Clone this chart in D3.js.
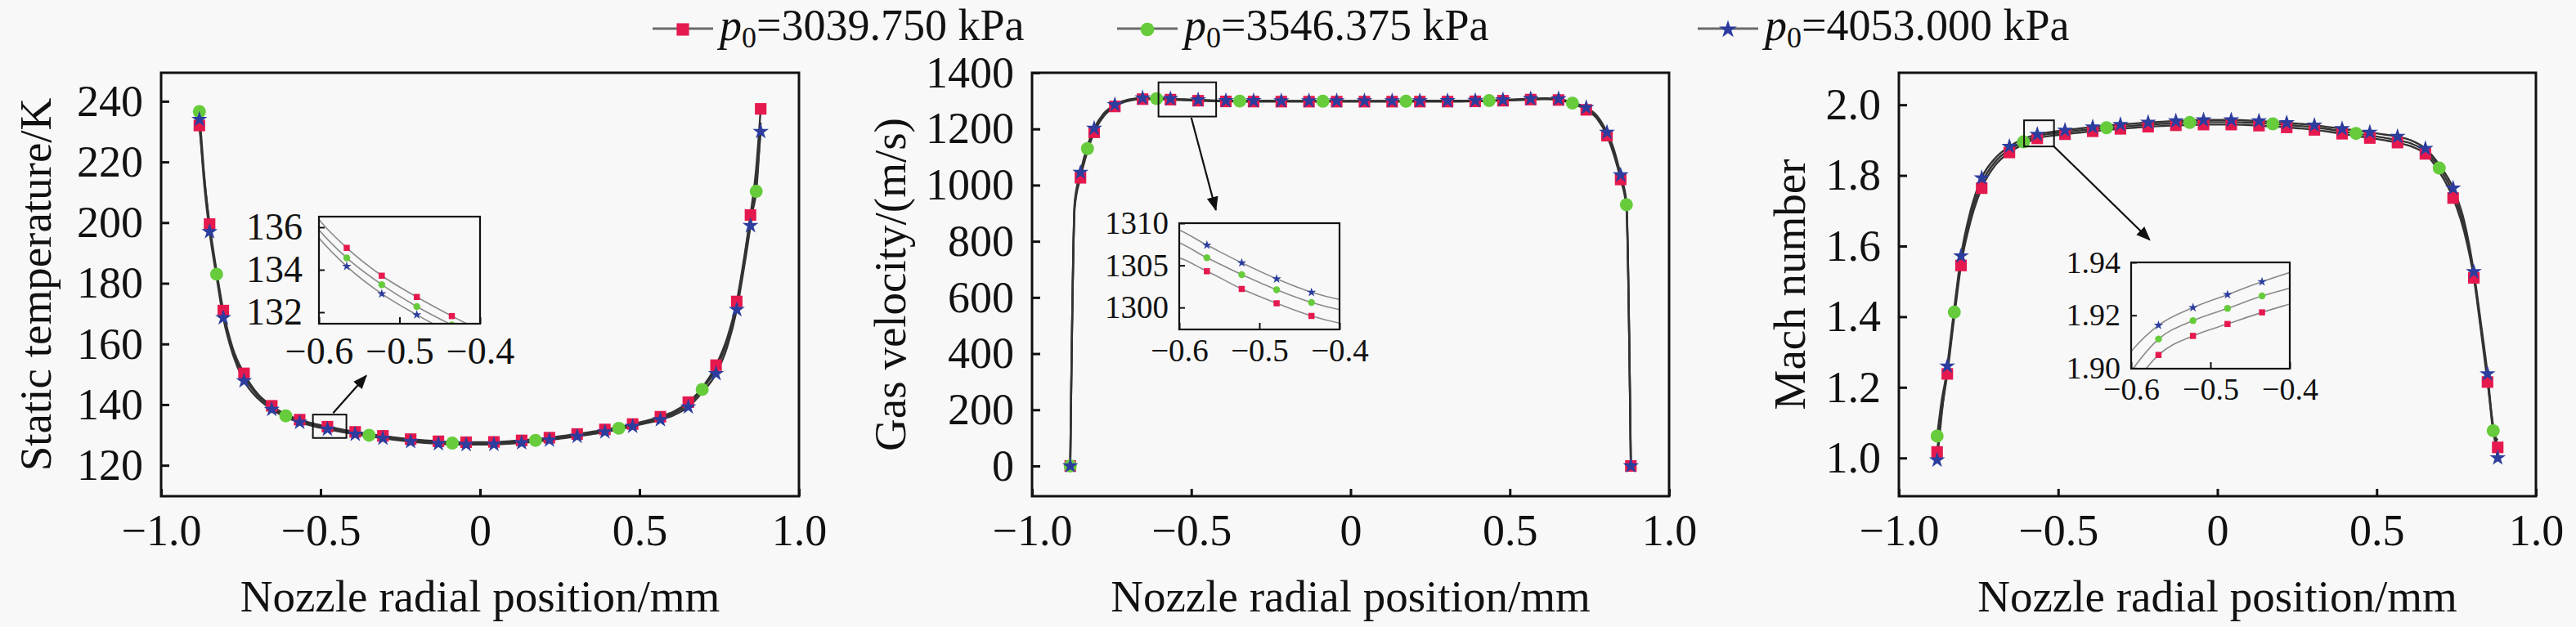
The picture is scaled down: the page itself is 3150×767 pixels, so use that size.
<!DOCTYPE html>
<html>
<head>
<meta charset="utf-8">
<script src="https://cdn.jsdelivr.net/npm/d3@7"></script>
<style>
    body { margin: 0; background: #f8f8f8; }
    svg text { font-family: "Liberation Serif", "Times New Roman", serif; fill: #111; }
</style>
</head>
<body>
<svg id="chart" width="3150" height="767"></svg>
<script>
// Radial sample positions (mm), same grid for every series
const radialPos = [-0.880, -0.866, -0.848, -0.826, -0.805, -0.775, -0.740, -0.6965, -0.653, -0.609,
    -0.5655, -0.522, -0.4785, -0.435, -0.3915, -0.348, -0.3045, -0.261, -0.2175, -0.174, -0.1305, -0.087, -0.0435,
    0,
    0.0435, 0.087, 0.1305, 0.174, 0.2175, 0.261, 0.3045, 0.348, 0.3915, 0.435, 0.4785, 0.522, 0.5655,
    0.609, 0.653, 0.6965, 0.740, 0.775, 0.805, 0.826, 0.848, 0.866, 0.880];

// Legend names (stagnation pressure, kPa)
const pressures = ["3039.750", "3546.375", "4053.000"];

// Static temperature (K)
const tempRed = [232.0, 216.0, 199.5, 184.0, 171.0, 158.5, 150.3, 143.5, 139.6, 136.8, 135.03, 133.72, 132.72, 131.82,
    131.0, 130.3, 129.7, 129.1, 128.6, 128.2, 127.9, 127.7, 127.6, 127.6, 127.7, 127.9, 128.2, 128.6, 129.1, 129.7,
    130.3, 131.0, 131.8, 132.6, 133.6, 134.7, 136.0, 137.8, 140.8, 145.5, 153.0, 162.0, 174.0, 187.0, 202.5, 218.0, 237.5];
const tempGreen = [236.6, 217.0, 198.5, 183.0, 170.0, 157.5, 149.2, 142.8, 139.0, 136.3, 134.56, 133.30, 132.27, 131.40,
    130.6, 129.9, 129.3, 128.7, 128.2, 127.8, 127.5, 127.3, 127.2, 127.2, 127.3, 127.5, 127.8, 128.2, 128.7, 129.3,
    129.9, 130.6, 131.4, 132.2, 133.2, 134.3, 135.5, 137.2, 140.0, 145.0, 151.8, 160.8, 172.8, 186.0, 201.5, 210.3, 233.0];
const tempBlue = [234.0, 214.0, 197.0, 182.0, 168.6, 156.5, 147.8, 142.0, 138.4, 135.9, 134.16, 132.87, 131.88, 131.00,
    130.2, 129.5, 128.9, 128.3, 127.8, 127.4, 127.1, 126.9, 126.8, 126.8, 126.9, 127.1, 127.4, 127.8, 128.3, 128.9,
    129.5, 130.2, 131.0, 131.8, 132.8, 133.9, 135.0, 136.6, 139.2, 144.0, 150.2, 159.0, 171.3, 184.0, 199.0, 213.0, 230.0];

// Gas velocity (m/s)
const velRed = [0, 920, 1026, 1120, 1188, 1245, 1280, 1300, 1306, 1306, 1304.3, 1302.2, 1300.5, 1299.0,
    1298.0, 1297.6, 1297.4, 1297.3, 1297.3, 1297.2, 1297.2, 1297.2, 1297.2, 1297.2, 1297.2, 1297.2, 1297.2, 1297.2, 1297.3, 1297.3,
    1297.4, 1297.6, 1298.2, 1299.2, 1300.6, 1302.4, 1304.5, 1306.0, 1303.0, 1290.0, 1268.0, 1235.0, 1176.0, 1110.0, 1020.0, 920.0, 0];
const velGreen = [0, 930, 1035, 1130, 1195, 1250, 1283, 1303, 1308.5, 1308, 1305.9, 1303.9, 1302.1, 1300.6,
    1299.6, 1299.2, 1299.0, 1298.9, 1298.9, 1298.8, 1298.8, 1298.8, 1298.8, 1298.8, 1298.8, 1298.8, 1298.8, 1298.8, 1298.9, 1298.9,
    1299.0, 1299.2, 1299.8, 1300.8, 1302.2, 1304.0, 1306.0, 1308.0, 1305.0, 1292.0, 1272.0, 1240.0, 1182.0, 1120.0, 1028.0, 930.0, 0];
const velBlue = [0, 940, 1045, 1140, 1202, 1255, 1286, 1305, 1310, 1309.5, 1307.4, 1305.3, 1303.4, 1301.8,
    1300.8, 1300.4, 1300.2, 1300.1, 1300.1, 1300.0, 1300.0, 1300.0, 1300.0, 1300.0, 1300.0, 1300.0, 1300.0, 1300.0, 1300.1, 1300.1,
    1300.2, 1300.4, 1301.0, 1302.0, 1303.4, 1305.3, 1307.4, 1309.5, 1307.0, 1294.0, 1276.0, 1245.0, 1188.0, 1130.0, 1036.0, 940.0, 0];

// Mach number
const machRed = [1.017, 1.13, 1.238, 1.40, 1.545, 1.67, 1.764, 1.83, 1.865, 1.888, 1.905, 1.9122, 1.9167, 1.9211,
    1.925, 1.929, 1.932, 1.935, 1.938, 1.940, 1.942, 1.943, 1.944, 1.944, 1.944, 1.943, 1.941, 1.939, 1.936, 1.933,
    1.929, 1.924, 1.918, 1.912, 1.906, 1.900, 1.893, 1.882, 1.861, 1.81, 1.736, 1.64, 1.51, 1.37, 1.215, 1.09, 1.03];
const machGreen = [1.062, 1.16, 1.25, 1.413, 1.558, 1.685, 1.778, 1.84, 1.873, 1.895, 1.911, 1.918, 1.9226, 1.9273,
    1.931, 1.935, 1.938, 1.941, 1.944, 1.946, 1.948, 1.950, 1.951, 1.951, 1.951, 1.950, 1.948, 1.946, 1.943, 1.940,
    1.936, 1.931, 1.925, 1.919, 1.913, 1.907, 1.900, 1.890, 1.868, 1.821, 1.75, 1.655, 1.518, 1.38, 1.225, 1.077, 1.05];
const machBlue = [0.994, 1.12, 1.26, 1.425, 1.572, 1.70, 1.793, 1.85, 1.882, 1.903, 1.9162, 1.9229, 1.9278, 1.9327,
    1.937, 1.941, 1.944, 1.947, 1.950, 1.952, 1.954, 1.956, 1.957, 1.957, 1.957, 1.956, 1.954, 1.952, 1.949, 1.946,
    1.942, 1.937, 1.932, 1.927, 1.922, 1.916, 1.910, 1.899, 1.876, 1.83, 1.764, 1.67, 1.527, 1.39, 1.238, 1.08, 1.00];

// Tick values and labels
const xTicks = [-1, -0.5, 0, 0.5, 1];
const xTickLabels = ["\u22121.0", "\u22120.5", "0", "0.5", "1.0"];
const tempTicks = [120, 140, 160, 180, 200, 220, 240];
const velTicks = [0, 200, 400, 600, 800, 1000, 1200, 1400];
const machTicks = [1.0, 1.2, 1.4, 1.6, 1.8, 2.0];
const insetXTicks = [-0.6, -0.5, -0.4];
const insetXLabels = ["\u22120.6", "\u22120.5", "\u22120.4"];
const tempInsetTicks = [132, 134, 136];
const velInsetTicks = [1300, 1305, 1310];
const machInsetTicks = [1.90, 1.92, 1.94];

// Marker placement (indices into radialPos): squares/stars on every other point, circles sparser
const circleIdx = [0, 3, 9, 15, 21, 27, 33, 39, 45];

const colors = ['#e5194e', '#66cc3c', '#2c3d9e'];
const shapes = [d3.symbolSquare, d3.symbolCircle, d3.symbolStar];
const mainSizes = [200, 200, 120];
const insetSizes = [56, 56, 40];

const svg = d3.select('#chart');
svg.append('rect').attr('width', 3150).attr('height', 767).attr('fill', '#f8f8f8');

const defs = svg.append('defs');
defs.append('marker')
    .attr('id', 'arrowHead')
    .attr('viewBox', '0 0 10 10')
    .attr('refX', 9).attr('refY', 5)
    .attr('markerWidth', 8).attr('markerHeight', 8)
    .attr('orient', 'auto')
    .append('path')
    .attr('d', 'M0,1 L10,5 L0,9 Z')
    .attr('fill', '#111');

const panels = [
    {
        box: {l: 197, r: 977, t: 89, b: 607},
        yDomain: [109.8, 249.4], yTicks: tempTicks, yFmt: d => String(d),
        title: 'Static temperature/K', titleX: 62,
        series: [tempRed, tempGreen, tempBlue],
        inset: {l: 390, r: 587, t: 265, b: 396, yDomain: [131.46, 136.5], yTicks: tempInsetTicks,
            yFmt: d => String(d), font: 46, yPad: 20, xPad: 16},
        zoomBox: {x: [-0.524, -0.419], y: [129.0, 136.7]},
        arrow: [[-0.4605, 137.2], [-0.357, 149.5]]
    },
    {
        box: {l: 1262, r: 2041, t: 89, b: 607},
        yDomain: [-107.7, 1400], yTicks: velTicks, yFmt: d => String(d),
        title: 'Gas velocity/(m/s)', titleX: 1107,
        series: [velRed, velGreen, velBlue],
        inset: {l: 1442, r: 1638, t: 273, b: 403, yDomain: [1297.4, 1310], yTicks: velInsetTicks,
            yFmt: d => String(d), font: 39, yPad: 13, xPad: 11},
        zoomBox: {x: [-0.603, -0.422], y: [1244, 1366]},
        arrow: [[-0.50, 1240], [-0.423, 912]]
    },
    {
        box: {l: 2322, r: 3101, t: 89, b: 607},
        yDomain: [0.8917, 2.0907], yTicks: machTicks, yFmt: d3.format('.1f'),
        title: 'Mach number', titleX: 2207,
        series: [machRed, machGreen, machBlue],
        inset: {l: 2606, r: 2800, t: 321, b: 451, yDomain: [1.8998, 1.94], yTicks: machInsetTicks,
            yFmt: d3.format('.2f'), font: 38, yPad: 13, xPad: 11},
        zoomBox: {x: [-0.607, -0.513], y: [1.882, 1.956]},
        arrow: [[-0.513, 1.882], [-0.213, 1.618]]
    }
];

function hasMarker(s, i) {
    if (s === 1) return circleIdx.includes(i);
    return (i - 23) % 2 !== 0;
}

function styleAxis(a, size) {
    a.select('.domain').remove();
    a.attr('font-size', size).attr('font-family', '"Liberation Serif", "Times New Roman", serif');
    a.selectAll('.tick line').attr('stroke', '#111').attr('stroke-width', 3);
    a.selectAll('.tick text').attr('fill', '#111');
}

function drawPanel(p, pi) {
    const g = svg.append('g').attr('class', 'panel');
    const x = d3.scaleLinear().domain([-1, 1]).range([p.box.l, p.box.r]);
    const y = d3.scaleLinear().domain(p.yDomain).range([p.box.b, p.box.t]);

    // axes with inward ticks
    g.append('g')
        .attr('transform', `translate(0,${p.box.b})`)
        .call(d3.axisBottom(x).tickValues(xTicks).tickFormat((d, i) => xTickLabels[i])
            .tickSizeInner(-9).tickSizeOuter(0).tickPadding(22))
        .call(a => styleAxis(a, 54));

    g.append('g')
        .attr('transform', `translate(${p.box.l},0)`)
        .call(d3.axisLeft(y).tickValues(p.yTicks).tickFormat(p.yFmt)
            .tickSizeInner(-10).tickSizeOuter(0).tickPadding(22))
        .call(a => styleAxis(a, 54));

    g.append('rect')
        .attr('x', p.box.l).attr('y', p.box.t)
        .attr('width', p.box.r - p.box.l).attr('height', p.box.b - p.box.t)
        .attr('fill', 'none').attr('stroke', '#111').attr('stroke-width', 3);

    // curves
    const line = d3.line().x(d => x(d[0])).y(d => y(d[1])).curve(d3.curveMonotoneX);
    p.series.forEach(vals => {
        g.append('path')
            .datum(radialPos.map((r, i) => [r, vals[i]]))
            .attr('d', line)
            .attr('fill', 'none')
            .attr('stroke', '#333')
            .attr('stroke-width', 2.4);
    });

    // markers
    p.series.forEach((vals, s) => {
        const pts = radialPos.map((r, i) => [r, vals[i], i]).filter(d => hasMarker(s, d[2]));
        g.append('g').selectAll('path')
            .data(pts)
            .enter().append('path')
            .attr('transform', d => `translate(${x(d[0])},${y(d[1])})`)
            .attr('d', d3.symbol().type(shapes[s]).size(mainSizes[s]))
            .attr('fill', colors[s]);
    });

    // titles
    g.append('text')
        .attr('x', (p.box.l + p.box.r) / 2).attr('y', 748)
        .attr('text-anchor', 'middle').attr('font-size', 55)
        .text('Nozzle radial position/mm');

    g.append('text')
        .attr('transform', `translate(${p.titleX},${(p.box.t + p.box.b) / 2}) rotate(-90)`)
        .attr('text-anchor', 'middle').attr('font-size', 55)
        .text(p.title);

    // zoom box and arrow
    g.append('rect')
        .attr('x', x(p.zoomBox.x[0])).attr('y', y(p.zoomBox.y[1]))
        .attr('width', x(p.zoomBox.x[1]) - x(p.zoomBox.x[0]))
        .attr('height', y(p.zoomBox.y[0]) - y(p.zoomBox.y[1]))
        .attr('fill', 'none').attr('stroke', '#111').attr('stroke-width', 2);

    g.append('line')
        .attr('x1', x(p.arrow[0][0])).attr('y1', y(p.arrow[0][1]))
        .attr('x2', x(p.arrow[1][0])).attr('y2', y(p.arrow[1][1]))
        .attr('stroke', '#111').attr('stroke-width', 2.2)
        .attr('marker-end', 'url(#arrowHead)');

    drawInset(g, p, pi);
}

function drawInset(g, p, pi) {
    const ins = p.inset;
    const ix = d3.scaleLinear().domain([-0.6, -0.4]).range([ins.l, ins.r]);
    const iy = d3.scaleLinear().domain(ins.yDomain).range([ins.b, ins.t]);

    g.append('rect')
        .attr('x', ins.l).attr('y', ins.t)
        .attr('width', ins.r - ins.l).attr('height', ins.b - ins.t)
        .attr('fill', '#f8f8f8');

    defs.append('clipPath').attr('id', 'insetClip' + pi)
        .append('rect')
        .attr('x', ins.l).attr('y', ins.t)
        .attr('width', ins.r - ins.l).attr('height', ins.b - ins.t);

    const inner = g.append('g').attr('clip-path', `url(#insetClip${pi})`);
    const line = d3.line().x(d => ix(d[0])).y(d => iy(d[1])).curve(d3.curveMonotoneX);

    p.series.forEach(vals => {
        inner.append('path')
            .datum(radialPos.map((r, i) => [r, vals[i]]))
            .attr('d', line)
            .attr('fill', 'none')
            .attr('stroke', '#8a8a8a')
            .attr('stroke-width', 1.6);
    });

    p.series.forEach((vals, s) => {
        const pts = radialPos.map((r, i) => [r, vals[i]]).filter(d => d[0] > -0.62 && d[0] < -0.38);
        inner.append('g').selectAll('path')
            .data(pts)
            .enter().append('path')
            .attr('transform', d => `translate(${ix(d[0])},${iy(d[1])})`)
            .attr('d', d3.symbol().type(shapes[s]).size(insetSizes[s]))
            .attr('fill', colors[s]);
    });

    g.append('g')
        .attr('transform', `translate(0,${ins.b})`)
        .call(d3.axisBottom(ix).tickValues(insetXTicks).tickFormat((d, i) => insetXLabels[i])
            .tickSizeInner(-8).tickSizeOuter(0).tickPadding(ins.xPad))
        .call(a => styleAxis(a, ins.font))
        .call(a => a.selectAll('.tick line').attr('stroke-width', 2));

    g.append('g')
        .attr('transform', `translate(${ins.l},0)`)
        .call(d3.axisLeft(iy).tickValues(ins.yTicks).tickFormat(ins.yFmt)
            .tickSizeInner(-7).tickSizeOuter(0).tickPadding(ins.yPad))
        .call(a => styleAxis(a, ins.font))
        .call(a => a.selectAll('.tick line').attr('stroke-width', 2));

    g.append('rect')
        .attr('x', ins.l).attr('y', ins.t)
        .attr('width', ins.r - ins.l).attr('height', ins.b - ins.t)
        .attr('fill', 'none').attr('stroke', '#111').attr('stroke-width', 2.2);
}

panels.forEach(drawPanel);

// Legend
const legendX = [798, 1366, 2076];
const legend = svg.append('g').attr('class', 'legend');
pressures.forEach((pr, s) => {
    const x0 = legendX[s];
    legend.append('line')
        .attr('x1', x0).attr('x2', x0 + 74).attr('y1', 35).attr('y2', 35)
        .attr('stroke', '#6a6a6a').attr('stroke-width', 3);
    legend.append('path')
        .attr('transform', `translate(${x0 + 37},36)`)
        .attr('d', d3.symbol().type(shapes[s]).size([230, 220, 150][s]))
        .attr('fill', colors[s]);
    const t = legend.append('text').attr('x', x0 + 82).attr('y', 49).attr('font-size', 54);
    t.append('tspan').attr('font-style', 'italic').text('p');
    t.append('tspan').attr('font-size', 36).attr('dy', 9).text('0');
    t.append('tspan').attr('dy', -9).text('=' + pr + ' kPa');
});
</script>
</body>
</html>
